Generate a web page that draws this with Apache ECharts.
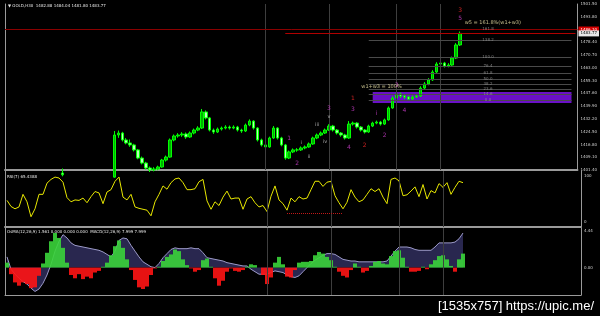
<!DOCTYPE html>
<html><head><meta charset="utf-8">
<script src="https://cdn.jsdelivr.net/npm/echarts@6/dist/echarts.min.js"></script>
<style>html,body{margin:0;padding:0;background:#000;}#c{width:600px;height:316px;}</style>
</head><body><div id="c"></div>
<script>
const symbolTitle = '\u25BC GOLD,H30  1482.88 1484.04 1481.80 1483.77';
const rsiTitle = 'RSI(7) 65.4388';
const macdTitle = 'OsMA(12,26,9) 1.561 0.000 0.000 0.000  MACD(12,26,9) 7.999 7.999';
const watermark = '[1535x757] https://upic.me/';
const barCount = 144;

// [open, close, low, high]
const candles = [
[1392.0,1391.2,1390.1,1393.0],[1391.2,1389.5,1388.7,1392.0],[1389.5,1388.1,1387.2,1390.3],[1388.1,1388.9,1386.9,1389.8],[1388.9,1390.8,1388.2,1391.5],
[1390.8,1389.6,1388.8,1391.4],[1389.6,1386.3,1385.5,1390.0],[1386.3,1387.5,1385.8,1388.4],[1387.5,1390.2,1387.0,1390.9],[1390.2,1391.0,1389.4,1391.9],
[1391.0,1394.2,1390.6,1394.8],[1394.2,1396.9,1393.8,1397.6],[1396.9,1399.0,1396.2,1399.8],[1399.0,1399.6,1398.1,1401.2],[1399.6,1398.5,1397.6,1402.3],
[1398.5,1395.2,1394.6,1399.0],[1395.2,1394.1,1393.2,1396.0],[1394.1,1394.6,1393.4,1395.3],[1394.6,1394.3,1393.5,1395.2],[1394.3,1395.0,1393.8,1395.9],
[1395.0,1393.9,1393.1,1395.6],[1393.9,1395.1,1393.5,1395.8],[1395.1,1396.8,1394.7,1397.4],[1396.8,1396.4,1395.6,1397.5],[1396.4,1394.8,1394.0,1396.9],
[1394.8,1396.0,1394.3,1396.7],[1396.0,1397.1,1395.5,1397.9],[1397.1,1422.5,1396.8,1424.9],[1422.5,1423.7,1420.8,1425.2],[1423.7,1419.5,1418.6,1424.4],
[1419.5,1417.7,1416.9,1420.6],[1417.7,1416.5,1415.4,1419.8],[1416.5,1413.5,1412.6,1417.2],[1413.5,1408.6,1407.9,1414.1],[1408.6,1405.6,1404.8,1409.5],
[1405.6,1402.6,1401.7,1406.3],[1402.6,1401.4,1400.2,1403.5],[1401.4,1402.0,1400.6,1403.1],[1402.0,1403.2,1401.2,1404.0],[1403.2,1407.4,1402.8,1408.1],
[1407.4,1409.2,1406.5,1410.1],[1409.2,1419.5,1408.8,1420.4],[1419.5,1421.9,1418.7,1422.8],[1421.9,1422.5,1420.9,1423.6],[1422.5,1423.1,1421.4,1424.2],
[1423.1,1421.3,1420.2,1424.0],[1421.3,1423.7,1420.8,1424.6],[1423.7,1425.5,1422.9,1426.4],[1425.5,1426.7,1424.8,1427.8],[1426.7,1436.4,1426.1,1438.2],
[1436.4,1432.8,1431.9,1437.3],[1432.8,1425.5,1424.7,1433.4],[1425.5,1424.3,1423.2,1426.4],[1424.3,1426.1,1423.7,1427.0],[1426.1,1426.7,1425.2,1427.6],
[1426.7,1427.3,1425.9,1428.4],[1427.3,1426.7,1425.8,1428.2],[1426.7,1427.3,1426.0,1428.3],[1427.3,1425.5,1424.6,1428.0],[1425.5,1424.9,1423.8,1426.3],
[1424.9,1428.5,1424.3,1429.4],[1428.5,1430.9,1427.8,1431.9],[1430.9,1426.7,1425.8,1431.4],[1426.7,1419.5,1418.6,1427.2],[1419.5,1416.5,1415.6,1420.3],
[1416.5,1415.3,1414.2,1417.4],[1415.3,1420.7,1414.9,1421.5],[1420.7,1426.7,1420.2,1427.9],[1426.7,1420.7,1419.8,1427.2],[1420.7,1416.5,1415.7,1421.4],
[1416.5,1408.6,1407.6,1417.1],[1408.6,1412.3,1408.0,1413.1],[1412.3,1413.5,1411.6,1414.4],[1413.5,1413.5,1412.4,1414.6],[1413.5,1414.7,1412.9,1415.6],
[1414.7,1415.3,1413.9,1416.2],[1415.3,1417.1,1414.8,1418.0],[1417.1,1420.7,1416.6,1421.5],[1420.7,1422.5,1420.0,1423.4],[1422.5,1423.7,1421.8,1424.6],
[1423.7,1425.5,1423.1,1426.4],[1425.5,1427.9,1424.9,1429.0],[1427.9,1425.5,1424.6,1428.6],[1425.5,1423.7,1422.8,1426.1],[1423.7,1422.5,1421.5,1424.3],
[1422.5,1420.7,1419.8,1423.2],[1420.7,1429.1,1420.2,1430.9],[1429.1,1429.7,1428.2,1430.6],[1429.7,1427.3,1426.4,1430.2],[1427.3,1425.5,1424.6,1427.9],
[1425.5,1424.3,1423.4,1426.1],[1424.3,1427.9,1423.8,1428.7],[1427.9,1429.7,1427.3,1430.5],[1429.7,1430.3,1429.0,1431.2],[1430.3,1429.1,1428.2,1431.0],
[1429.1,1431.6,1428.6,1432.4],[1431.6,1438.8,1431.1,1439.7],[1438.8,1444.8,1438.3,1445.9],[1444.8,1447.2,1444.1,1448.3],[1447.2,1446.0,1444.9,1448.0],
[1446.0,1445.4,1444.3,1447.0],[1445.4,1444.2,1443.3,1446.1],[1444.2,1445.4,1443.6,1446.3],[1445.4,1446.0,1444.8,1447.1],[1446.0,1450.8,1445.5,1451.9],
[1450.8,1453.3,1450.1,1454.4],[1453.3,1455.7,1452.5,1456.8],[1455.7,1460.5,1455.1,1461.6],[1460.5,1465.3,1459.9,1466.4],[1465.3,1465.9,1464.3,1467.0],
[1465.9,1464.1,1463.2,1466.6],[1464.1,1464.7,1463.3,1465.8],[1464.7,1468.9,1464.2,1469.8],[1468.9,1476.8,1468.3,1477.9],[1476.8,1483.77,1476.2,1484.9]
];

const rsi = [
47,34,29,33,60,44,12,29,60,60,
84,92,97,95,86,53,44,48,47,52,
42,55,66,63,40,65,70,88,97,54,
48,60,33,30,28,26,14,44,60,78,
71,85,93,95,85,70,70,72,87,92,
46,28,44,36,54,67,50,52,52,28,
50,55,42,33,36,23,56,78,48,40,
26,52,44,55,50,52,70,88,88,77,
86,88,57,42,29,43,70,54,44,48,
60,72,66,72,54,40,92,95,89,57,
59,67,76,55,81,50,68,63,83,75,
85,60,75,88,85
];

const macd = [
1.3,-0.2,-0.8,-1.3,-1.7,-2.0,-2.5,-2.9,-2.6,-1.9,
-0.9,0.4,2.0,3.2,4.0,3.6,3.0,2.7,2.6,2.5,
2.4,2.3,2.2,2.1,1.9,1.6,1.3,2.0,3.3,3.6,
3.5,2.7,2.0,1.3,0.7,0.4,0.1,0.0,0.5,1.2,
1.7,2.2,2.4,2.3,2.3,2.3,2.4,2.3,2.3,1.8,
1.2,1.1,1.0,0.9,0.8,0.6,0.5,0.4,0.3,0.2,
0.2,-0.2,-0.5,-0.8,-0.8,-0.8,-0.6,-0.4,-0.5,-0.6,
-0.9,-1.1,-1.2,-1.0,-0.5,0.0,0.5,0.9,1.2,1.5,
1.7,1.7,1.6,1.3,1.0,0.9,0.8,0.8,0.7,0.7,
0.7,0.7,0.7,0.7,0.7,0.8,1.4,2.0,2.5,2.5,
2.5,2.4,2.2,2.1,2.1,2.1,2.1,2.5,3.0,3.0,
3.0,3.0,3.1,3.5,4.2
];

const osma = [
0.6,-0.8,-1.8,-2.2,-1.8,-2.0,-2.5,-2.4,-1.0,0.5,
1.8,3.2,4.2,3.6,2.4,0.6,-0.9,-1.3,-0.8,-1.4,
-1.1,-1.3,-0.6,-0.4,0.1,0.6,1.5,2.6,3.3,2.4,
1.0,-0.3,-1.5,-2.4,-2.6,-2.3,-0.9,-0.1,0.1,0.8,
1.3,1.6,2.2,2.0,1.0,0.3,-0.1,-0.5,-0.3,0.9,
1.1,0.1,-1.3,-2.2,-1.6,-0.5,-0.1,-0.4,-0.5,-0.3,
0.1,0.4,0.3,0.0,-0.9,-2.0,-1.2,0.6,1.3,0.4,
-1.1,-1.2,-0.3,0.6,0.7,0.7,0.8,1.5,1.9,1.7,
1.3,0.9,0.1,-0.5,-1.0,-1.2,-0.3,0.5,0.1,-0.6,
-0.4,0.2,0.7,0.8,0.5,0.4,1.4,2.0,2.1,1.2,
0.1,-0.5,-0.5,-0.4,0.1,-0.2,0.4,0.9,1.4,1.5,
1.0,0.2,-0.5,1.0,1.7
];

const dayBreaks = [65, 81, 98, 109];
const fibLevels = [1486.4, 1479.8, 1469.5, 1464.1, 1459.9, 1456.3, 1453.3, 1450.2, 1447.2, 1443.6];
const fibLabels = ['161.8','138.2','100.0','76.4','61.8','50.0','38.2','23.6','14.6','0.0'];
const fibSpan = [91, 142];
const fibLabelAt = 121;
const zoneSpan = [92, 142];
const zonePrices = [1441.8, 1448.4];
const bidPrice = 1486.10;
const lastPrice = 1483.77;
const lastLineStart = 70;
const rsiLevel = 20;
const rsiLevelSpan = [70, 84];

const redWaveLabels = [[114,1497.9,'3'],[87,1444.8,'1'],[90,1416.5,'2']];
const pinkWaveLabels = [[114,1492.5,'5'],[87,1438.2,'3'],[81,1438.6,'3'],[71,1420.7,'1'],[73,1405.6,'2'],[86,1415.3,'4'],[93,1435.8,'i'],[95,1422.5,'2'],[98,1452.1,'3'],[100,1437.6,'4']];
const greyWaveLabels = [[81,1433.4,'v'],[78,1428.5,'iii'],[80,1418.3,'iv'],[74,1417.7,'i'],[76,1409.2,'ii']];
const notes = [[115,1490.0,'w5 = 161.8%(w1+w3)'],[89,1451.4,'w1+w3 = 100%']];

const categories = [];
for (let i = 0; i < barCount; i++) categories.push('b' + i);

const FONT = 'DejaVu Sans';
const gridCommon = {left: 5, right: 19};
const axisGrey = '#9a9a9a';

function xAx(idx, w) {
  return {type:'category', gridIndex: idx, data: categories, boundaryGap: true,
    axisLine:{show:true, onZero:false, lineStyle:{color: axisGrey, width: w}},
    axisTick:{show:false}, axisLabel:{show:false}, splitLine:{show:false}};
}
function leftAx(idx) {
  return {type:'value', gridIndex: idx, position:'left', min:0, max:1,
    axisLine:{show:true, lineStyle:{color: axisGrey}}, axisTick:{show:false},
    axisLabel:{show:false}, splitLine:{show:false}};
}
const lblStyle = {color:'#cfcfcf', fontSize:4, fontFamily: FONT, margin: 3};

const vLineData = dayBreaks.map(i => ({xAxis: i}));
const vLineStyle = {color:'#3e3e3e', width:1, type:'solid'};

function textSeries(data, color, fontSize, pos) {
  return {type:'scatter', xAxisIndex:0, yAxisIndex:0, data: data, symbolSize: 1,
    itemStyle:{color:'rgba(0,0,0,0)'}, silent:true, z: 6,
    label:{show:true, position: pos || 'inside', distance: 0, formatter: p => p.data[2],
      color: color, fontSize: fontSize, fontFamily: FONT}};
}

const option = {
  backgroundColor: '#000',
  animation: false,
  title: [
    {text: symbolTitle, left: 8, top: 4, padding: 0, textStyle:{color:'#e6e6e6', fontSize:4, fontWeight:'normal', fontFamily: FONT}},
    {text: rsiTitle, left: 7, top: 175, padding: 0, textStyle:{color:'#e6e6e6', fontSize:4, fontWeight:'normal', fontFamily: FONT}},
    {text: macdTitle, left: 7, top: 230, padding: 0, textStyle:{color:'#e6e6e6', fontSize:4, fontWeight:'normal', fontFamily: FONT}}
  ],
  grid: [
    Object.assign({top: 4, height: 166}, gridCommon),
    Object.assign({top: 171, height: 56}, gridCommon),
    Object.assign({top: 228, height: 67}, gridCommon)
  ],
  xAxis: [xAx(0, 2), xAx(1, 2), xAx(2, 1)],
  yAxis: [
    {type:'value', gridIndex:0, position:'right', min:1401.4, max:1501.5, interval:7.7,
      axisLine:{show:true, lineStyle:{color: axisGrey}}, axisTick:{show:false}, splitLine:{show:false},
      axisLabel: Object.assign({formatter: v => v.toFixed(2)}, lblStyle)},
    {type:'value', gridIndex:1, position:'right', min:-10, max:110, interval:10,
      axisLine:{show:true, lineStyle:{color: axisGrey}}, axisTick:{show:false}, splitLine:{show:false},
      axisLabel: Object.assign({formatter: v => (Math.abs(v) < 0.01 ? '0' : (Math.abs(v-100) < 0.01 ? '100' : ''))}, lblStyle)},
    {type:'value', gridIndex:2, position:'right', min:-3.33, max:4.81, interval:0.37,
      axisLine:{show:true, lineStyle:{color: axisGrey}}, axisTick:{show:false}, splitLine:{show:false},
      axisLabel: Object.assign({formatter: v => (Math.abs(v) < 0.01 ? '0.00' : (Math.abs(v-4.44) < 0.01 ? '4.44' : ''))}, lblStyle)},
    leftAx(0), leftAx(1), leftAx(2)
  ],
  series: [
    {
      type:'candlestick', xAxisIndex:0, yAxisIndex:0, data: candles, barWidth: 3, clip: true, z: 3,
      itemStyle:{color:'#00b000', color0:'#b8ffb8', borderColor:'#00ff00', borderColor0:'#00ff00', borderWidth:1},
      markArea: {silent:true, itemStyle:{color:'#6a10c8', opacity:1},
        data: [[{coord:[zoneSpan[0], zonePrices[0]]}, {coord:[zoneSpan[1], zonePrices[1]]}]]},
      markLine: {silent:true, symbol:['none','none'], animation:false,
        label:{show:false},
        data: [].concat(
          vLineData.map(d => Object.assign({lineStyle: vLineStyle}, d)),
          fibLevels.map(v => [{coord:[fibSpan[0], v], lineStyle:{color:'#4a4a4a', width:1, type:'solid'}}, {coord:[fibSpan[1], v]}]),
          [{yAxis: bidPrice, lineStyle:{color:'#8a0000', width:1, type:'solid'},
            label:{show:true, position:'end', distance:1, formatter: bidPrice.toFixed(2), color:'#fff', backgroundColor:'#d40000', fontSize:4, padding:[1,2], fontFamily: FONT}},
           [{coord:[lastLineStart, lastPrice], lineStyle:{color:'#b00000', width:1, type:'solid'},
             label:{show:true, position:'end', distance:3, formatter: lastPrice.toFixed(2), color:'#000', backgroundColor:'#e8e8e8', fontSize:4, padding:[1,2], fontFamily: FONT}},
            {coord:[barCount-1, lastPrice]}]]
        )
      }
    },
    {type:'scatter', xAxisIndex:0, yAxisIndex:0, symbolSize:1, itemStyle:{color:'rgba(0,0,0,0)'}, silent:true, z:6,
      data: fibLevels.map((v,k) => [fibLabelAt, v, fibLabels[k]]),
      label:{show:true, position:'inside', formatter: p => p.data[2], color:'#9a9a9a', fontSize:4, fontFamily: FONT}},
    textSeries(redWaveLabels, '#ff2a2a', 6),
    textSeries(pinkWaveLabels, '#d040d0', 6),
    textSeries(greyWaveLabels, '#c8c8c8', 5),
    textSeries(notes, '#ece4a8', 5, 'right'),
    {
      type:'line', xAxisIndex:1, yAxisIndex:1, data: rsi, symbol:'none', z:3,
      lineStyle:{color:'#e8e800', width:1},
      markLine:{silent:true, symbol:['none','none'], label:{show:false},
        data: [].concat(
          vLineData.map(d => Object.assign({lineStyle: vLineStyle}, d)),
          [[{coord:[rsiLevelSpan[0], rsiLevel], lineStyle:{color:'#c01818', width:1, type:'dotted'}}, {coord:[rsiLevelSpan[1], rsiLevel]}]]
        )}
    },
    {
      type:'line', xAxisIndex:2, yAxisIndex:2, data: macd, symbol:'none', z:2,
      lineStyle:{color:'#9c9ac8', width:1},
      areaStyle:{color:'#29274f', opacity:1},
      markLine:{silent:true, symbol:['none','none'], label:{show:false},
        data: vLineData.map(d => Object.assign({lineStyle: vLineStyle}, d))}
    },
    {
      type:'bar', xAxisIndex:2, yAxisIndex:2, data: osma, barCategoryGap:'0%', z:3,
      itemStyle:{opacity:0.9, color: p => (p.value >= 0 ? '#3ad43a' : '#ff1414')}
    }
  ],
  graphic: [
    {type:'text', right: 6, bottom: 3, style:{text: watermark, fill:'#ffffff', font:'13px "Liberation Sans"'}}
  ]
};

const chart = echarts.init(document.getElementById('c'), null, {renderer:'canvas'});
chart.setOption(option);
</script>
</body></html>
